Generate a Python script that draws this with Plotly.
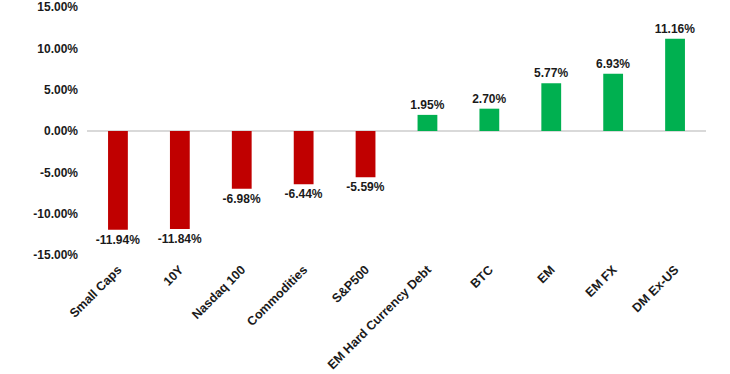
import plotly.graph_objects as go

categories = ["Small Caps", "10Y", "Nasdaq 100", "Commodities", "S&P500",
              "EM Hard Currency Debt", "BTC", "EM", "EM FX", "DM Ex-US"]
values = [-11.94, -11.84, -6.98, -6.44, -5.59, 1.95, 2.70, 5.77, 6.93, 11.16]
y_ticks = [-15, -10, -5, 0, 5, 10, 15]
y_tick_labels = [f"{t:.2f}%" for t in y_ticks]

colors = ["#C00000" if v < 0 else "#00B050" for v in values]
labels = [f"{v:.2f}%" for v in values]

FONT = "Liberation Sans"
TXT = "#1a1a1a"

fig = go.Figure(go.Bar(
    x=categories, y=values, marker_color=colors, marker_line_width=0,
    width=0.32, text=labels, textposition="outside", cliponaxis=False,
    constraintext="none",
    textfont=dict(family=FONT, size=12, color=TXT, weight="bold"),
))

fig.update_layout(
    width=730, height=374,
    margin=dict(l=87, r=24, t=7, b=119),
    paper_bgcolor="white", plot_bgcolor="white",
    font=dict(family=FONT, size=12, color=TXT),
    showlegend=False,
)
fig.update_yaxes(range=[-15, 15], tickvals=y_ticks, ticktext=y_tick_labels,
                 showgrid=False, zeroline=True, zerolinecolor="#D9D9D9",
                 zerolinewidth=2, showline=False, ticks="", automargin=False,
                 tickfont=dict(family=FONT, size=12, color=TXT, weight="bold"),
                 ticklabelstandoff=8)
fig.update_xaxes(tickangle=-45, showgrid=False, showline=False, ticks="",
                 automargin=False, ticklabelstandoff=4,
                 tickfont=dict(family=FONT, size=12.5, color=TXT, weight="bold"))

fig.write_html("out.html", config={"displayModeBar": False},
               post_script="document.body.style.margin='0';document.body.style.overflow='hidden';")
